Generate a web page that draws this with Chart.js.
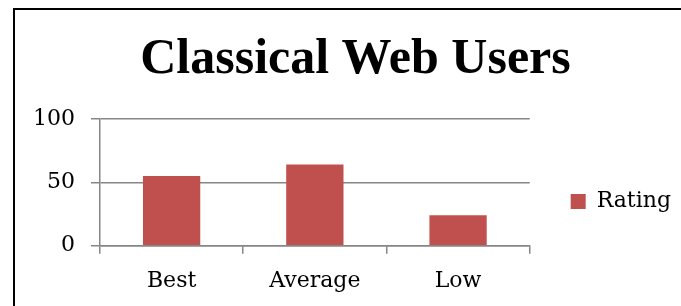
<!DOCTYPE html>
<html>
<head>
<meta charset="utf-8">
<script src="https://cdn.jsdelivr.net/npm/chart.js@4.4.1/dist/chart.umd.min.js"></script>
<style>
  html, body { margin: 0; padding: 0; background: #fff; }
  #frame { position: absolute; left: 13px; top: 8px; width: 700px; height: 320px;
           border-left: 2px solid #000; border-top: 2px solid #000; }
  #wrap { position: absolute; left: 0; top: 0; width: 681px; height: 306px; }
</style>
</head>
<body>
<div id="frame"></div>
<div id="wrap"><canvas id="c" width="681" height="306"></canvas></div>
<script>
const titleText = 'Classical Web Users';
const categories = ['Best', 'Average', 'Low'];
const seriesName = 'Rating';
const ratingValues = [55, 64, 24];
const yTicks = [0, 50, 100];

const gridColor = '#868686';
const barColor = '#C0504D';
const serif = "'DejaVu Serif', serif";

new Chart(document.getElementById('c'), {
  type: 'bar',
  data: {
    labels: categories,
    datasets: [{
      label: seriesName,
      data: ratingValues,
      backgroundColor: barColor,
      borderWidth: 0,
      barPercentage: 0.4,
      categoryPercentage: 1.0
    }]
  },
  options: {
    responsive: false,
    animation: false,
    layout: { padding: { left: 30, right: 0, top: 0, bottom: 0 } },
    plugins: {
      title: {
        display: true,
        text: titleText,
        color: '#000',
        font: { family: "'Liberation Serif', serif", weight: 'bold', size: 50, lineHeight: 1.2 },
        padding: { top: 30, bottom: 29 }
      },
      legend: {
        display: true,
        position: 'right',
        title: {
          display: true,
          text: ' ',
          color: 'rgba(0,0,0,0)',
          font: { size: 1, lineHeight: 1 },
          padding: { top: 96, bottom: 0 }
        },
        labels: {
          color: '#000',
          font: { family: serif, size: 22 },
          boxWidth: 15,
          boxHeight: 15,
          padding: 41
        }
      },
      tooltip: { enabled: false }
    },
    scales: {
      x: {
        grid: { drawOnChartArea: false, drawTicks: true, tickLength: 8, offset: true, color: gridColor, lineWidth: 1.5 },
        border: { display: true, color: gridColor, width: 1.5 },
        ticks: { color: '#000', font: { family: serif, size: 22 }, padding: 14.5, maxRotation: 0 },
        afterFit: s => { s.height = 60.3; }
      },
      y: {
        min: 0, max: 100,
        afterBuildTicks: s => { s.ticks = yTicks.map(v => ({ value: v })); },
        grid: { color: gridColor, lineWidth: 1.5, tickLength: 9 },
        border: { display: true, color: gridColor, width: 1.5 },
        ticks: { color: '#000', font: { family: serif, size: 22 }, padding: 16 },
        afterFit: s => { s.width = 70; }
      }
    }
  }
});
</script>
</body>
</html>
